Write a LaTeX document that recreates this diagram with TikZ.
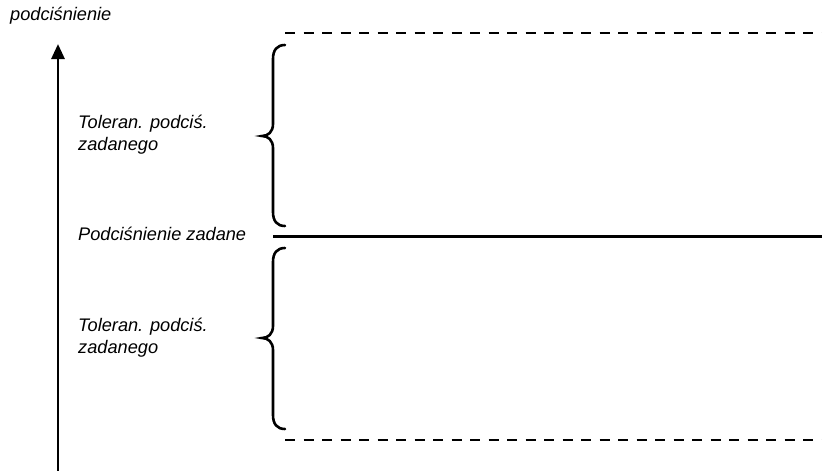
\documentclass[tikz,border=0pt]{standalone}
\usepackage{fontspec}
\setmainfont{Liberation Sans}
\usetikzlibrary{arrows.meta}
\begin{document}
\begin{tikzpicture}[x=1pt,y=-1pt,
  lbl/.style={inner sep=0pt,anchor=base west,align=left,font=\fontsize{18.2}{22}\selectfont\itshape},
  ln/.style={line width=2.8pt},
  dashln/.style={line width=2.8pt,dash pattern=on 10pt off 8.5pt},
  brace/.style={line width=2.6pt,line cap=round}]
\useasboundingbox (0,0) rectangle (822,471);
% axis
\coordinate (axb) at (58,471);
\coordinate (axt) at (58,44);
\draw[ln,-{Triangle[length=15pt,width=13pt]}] (axb) -- (axt);
\node[lbl] (ylab) at (10,20) {podciśnienie};
% levels
\coordinate (d1a) at (285,33);  \coordinate (d1b) at (822,33);
\coordinate (sa) at (273,236.5); \coordinate (sb) at (822,236.5);
\coordinate (d2a) at (285,440); \coordinate (d2b) at (822,440);
\draw[dashln] (d1a) -- (d1b);
\draw[ln] (sa) -- (sb);
\draw[dashln] (d2a) -- (d2b);
\node[lbl] (set) at (78,240) {Podciśnienie zadane};
% braces
\coordinate (b1t) at (285,45);
\coordinate (b1m) at (262,136);
\coordinate (b1b) at (285,226);
\draw[brace] (b1t) .. controls (277,45) and (273,50) .. (273,59) -- (273,124)
  .. controls (273,132) and (268,136) .. (b1m)
  .. controls (268,136) and (273,140) .. (273,148) -- (273,212)
  .. controls (273,221) and (277,226) .. (b1b);
\coordinate (b2t) at (285,248);
\coordinate (b2m) at (262,338);
\coordinate (b2b) at (285,429);
\draw[brace] (b2t) .. controls (277,248) and (273,253) .. (273,262) -- (273,326)
  .. controls (273,334) and (268,338) .. (b2m)
  .. controls (268,338) and (273,342) .. (273,350) -- (273,415)
  .. controls (273,424) and (277,429) .. (b2b);
\node[lbl] (tol1) at (78,150) {Toleran. podciś.\\zadanego};
\node[lbl] (tol2) at (78,353) {Toleran. podciś.\\zadanego};
\end{tikzpicture}
\end{document}
